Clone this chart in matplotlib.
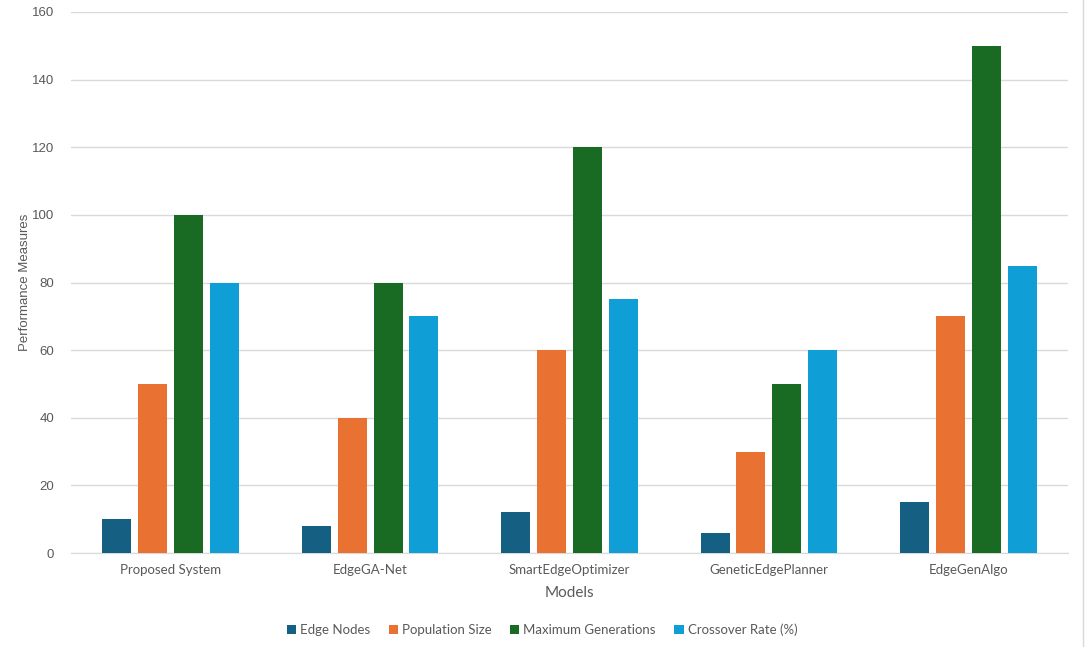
import matplotlib
matplotlib.use('Agg')
import matplotlib.pyplot as plt
import numpy as np
from matplotlib.lines import Line2D

models = ['Proposed System', 'EdgeGA-Net', 'SmartEdgeOptimizer',
          'GeneticEdgePlanner', 'EdgeGenAlgo']
edge_nodes = [10, 8, 12, 6, 15]
population_size = [50, 40, 60, 30, 70]
max_generations = [100, 80, 120, 50, 150]
crossover_rate = [80, 70, 75, 60, 85]

series_names = ['Edge Nodes', 'Population Size', 'Maximum Generations',
                'Crossover Rate (%)']
series_values = [edge_nodes, population_size, max_generations, crossover_rate]
series_colors = ['#156082', '#E97132', '#196B24', '#0F9ED5']

W, H = 1085, 647
fig = plt.figure(figsize=(W / 100, H / 100), dpi=100)
ax = fig.add_axes([71 / W, 1 - 553 / H, (1068 - 71) / W, (553 - 12) / H])

x = np.arange(len(models))
width = 0.145
step = 0.18
for i, (name, vals, col) in enumerate(zip(series_names, series_values, series_colors)):
    offset = (i - 1.5) * step
    ax.bar(x + offset, vals, width=width, color=col, label=name, zorder=3)

ax.set_xlim(-0.5, len(models) - 0.5)
ax.set_ylim(0, 160)
ax.set_yticks(range(0, 161, 20))
ax.grid(axis='y', color='#d9d9d9', linewidth=1, zorder=0)
for s in ['top', 'right', 'left']:
    ax.spines[s].set_visible(False)
ax.spines['bottom'].set_color('#d9d9d9')
ax.tick_params(axis='both', length=0, colors='#595959')
ax.tick_params(axis='y', pad=12)
ax.tick_params(axis='x', pad=8)
ax.set_xticks(x)
ax.set_xticklabels(models, fontsize=9.5, family=['Lato', 'DejaVu Sans'])
for lbl in ax.get_yticklabels():
    lbl.set_fontsize(9.5)
    lbl.set_family(['Liberation Sans', 'DejaVu Sans'])

ax.set_ylabel('Performance Measures', fontsize=9.5, color='#595959',
              family=['Liberation Sans', 'DejaVu Sans'])
ax.yaxis.set_label_coords(31 / W, 1 - 282 / H, transform=fig.transFigure)
ax.set_xlabel('Models', fontsize=11, color='#595959',
              family=['Lato', 'DejaVu Sans'], labelpad=7)

leg = fig.legend(loc='center', bbox_to_anchor=(542 / W, 1 - 630 / H), ncol=4,
                 frameon=False, handlelength=0.7, handleheight=0.7,
                 handletextpad=0.3, columnspacing=1.4,
                 prop={'family': ['Lato', 'DejaVu Sans'], 'size': 9.5})
for t in leg.get_texts():
    t.set_color('#595959')

# light chart border on the right edge
fig.add_artist(Line2D([1083 / W, 1083 / W], [0, 1], color='#d9d9d9',
                      linewidth=1, transform=fig.transFigure))

fig.savefig('out.png', dpi=100)
